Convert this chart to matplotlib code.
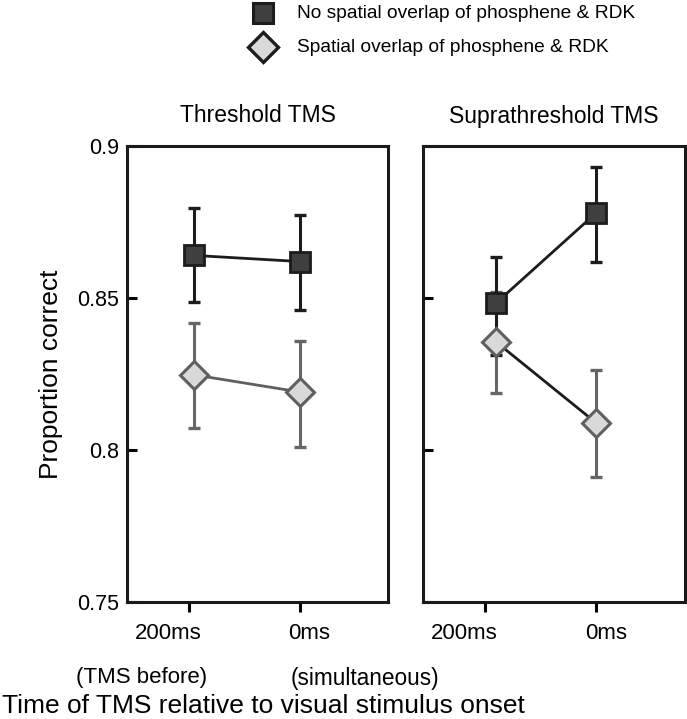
import matplotlib
matplotlib.use("Agg")
import matplotlib.pyplot as plt
import matplotlib.transforms as mtransforms
from matplotlib.lines import Line2D

plt.rcParams["font.family"] = ["Liberation Sans", "DejaVu Sans"]

# data
timings = ["200ms", "0ms"]
panels = ["Threshold TMS", "Suprathreshold TMS"]

thr_noover = [0.864, 0.862]
thr_noover_lo = [0.8487, 0.846]
thr_noover_hi = [0.8796, 0.8773]
thr_over = [0.8247, 0.8191]
thr_over_lo = [0.8072, 0.801]
thr_over_hi = [0.8418, 0.8359]

sup_noover = [0.8484, 0.878]
sup_noover_lo = [0.8313, 0.8618]
sup_noover_hi = [0.8635, 0.8931]
sup_over = [0.8355, 0.8089]
sup_over_lo = [0.8187, 0.7911]
sup_over_hi = [0.852, 0.8263]

W, H = 687, 719
fig = plt.figure(figsize=(W / 100, H / 100), dpi=100)

SQ_FACE, SQ_EDGE = "#3f3f3f", "#1c1c1c"
DI_FACE, DI_EDGE = "#d9d9d9", "#5f5f5f"
BLACK, GREY = "#1c1c1c", "#666666"


def px_axes(x0, x1, y0, y1):
    return fig.add_axes([x0 / W, 1 - y1 / H, (x1 - x0) / W, (y1 - y0) / H])


def draw_panel(ax, xs, no, no_lo, no_hi, ov, ov_lo, ov_hi, ov_line):
    ekw = dict(fmt="none", elinewidth=2.2, capsize=4.3, capthick=2.4, zorder=2)
    ax.errorbar(xs, ov, yerr=[[a - b for a, b in zip(ov, ov_lo)],
                              [b - a for a, b in zip(ov, ov_hi)]],
                ecolor=GREY, **ekw)
    ax.errorbar(xs, no, yerr=[[a - b for a, b in zip(no, no_lo)],
                              [b - a for a, b in zip(no, no_hi)]],
                ecolor=BLACK, **ekw)
    ax.plot(xs, ov, color=ov_line, lw=2.0, zorder=3)
    ax.plot(xs, no, color=BLACK, lw=2.0, zorder=3)
    ax.plot(xs, ov, ls="none", marker="D", ms=14.5, mfc=DI_FACE, mec=DI_EDGE,
            mew=2.2, zorder=4)
    ax.plot(xs, no, ls="none", marker="s", ms=14.5, mfc=SQ_FACE, mec=SQ_EDGE,
            mew=2.0, zorder=5)

    ax.set_xlim(-0.56, 1.8)
    ax.set_ylim(0.75, 0.9)
    ax.set_yticks([0.75, 0.8, 0.85, 0.9])
    ax.set_xticks([0, 1])
    for s in ax.spines.values():
        s.set_linewidth(2.2)
        s.set_color("#1a1a1a")
    ax.tick_params(axis="y", direction="in", length=7, width=2.2, labelsize=15.5,
                   pad=6)
    ax.tick_params(axis="x", direction="out", length=7, width=2.2, labelsize=16,
                   pad=8)
    ax.set_xticklabels(timings)
    offs = [-21, 10]
    for lab, dx in zip(ax.get_xticklabels(), offs):
        lab.set_transform(lab.get_transform() +
                          mtransforms.ScaledTranslation(dx / 100, 0, fig.dpi_scale_trans))


ax1 = px_axes(127, 388, 146, 602)
draw_panel(ax1, [0.05, 1.0], thr_noover, thr_noover_lo, thr_noover_hi,
           thr_over, thr_over_lo, thr_over_hi, DI_EDGE)
ax1.set_yticklabels(["0.75", "0.8", "0.85", "0.9"])
ax1.set_ylabel("Proportion correct", fontsize=19, labelpad=10)

ax2 = px_axes(423, 685, 146, 602)
draw_panel(ax2, [0.1, 1.0], sup_noover, sup_noover_lo, sup_noover_hi,
           sup_over, sup_over_lo, sup_over_hi, BLACK)
ax2.set_yticklabels([])

fig.text(258 / W, 1 - 116 / H, panels[0], ha="center", va="center", fontsize=16.5)
fig.text(554 / W, 1 - 116 / H, panels[1], ha="center", va="center", fontsize=16.5)

fig.text(76 / W, 1 - 678 / H, "(TMS before)", ha="left", va="center", fontsize=16)
fig.text(291 / W, 1 - 678 / H, "(simultaneous)", ha="left", va="center", fontsize=16.3)
fig.text(2 / W, 1 - 713 / H, "Time of TMS relative to visual stimulus onset",
         ha="left", va="baseline", fontsize=19)

# legend drawn at top
lax = fig.add_axes([0, 0, 1, 1], facecolor="none")
lax.set_xlim(0, W)
lax.set_ylim(H, 0)
lax.axis("off")
lax.add_line(Line2D([263], [13], marker="s", ms=14.5, mfc=SQ_FACE, mec=SQ_EDGE,
                    mew=2.2, ls="none"))
lax.add_line(Line2D([263], [47], marker="D", ms=15, mfc=DI_FACE, mec=BLACK,
                    mew=2.4, ls="none"))
lax.text(297, 14, "No spatial overlap of phosphene & RDK", va="center",
         ha="left", fontsize=13.8)
lax.text(297, 48, "Spatial overlap of phosphene & RDK", va="center",
         ha="left", fontsize=13.8)

fig.savefig("out.png", dpi=100)
